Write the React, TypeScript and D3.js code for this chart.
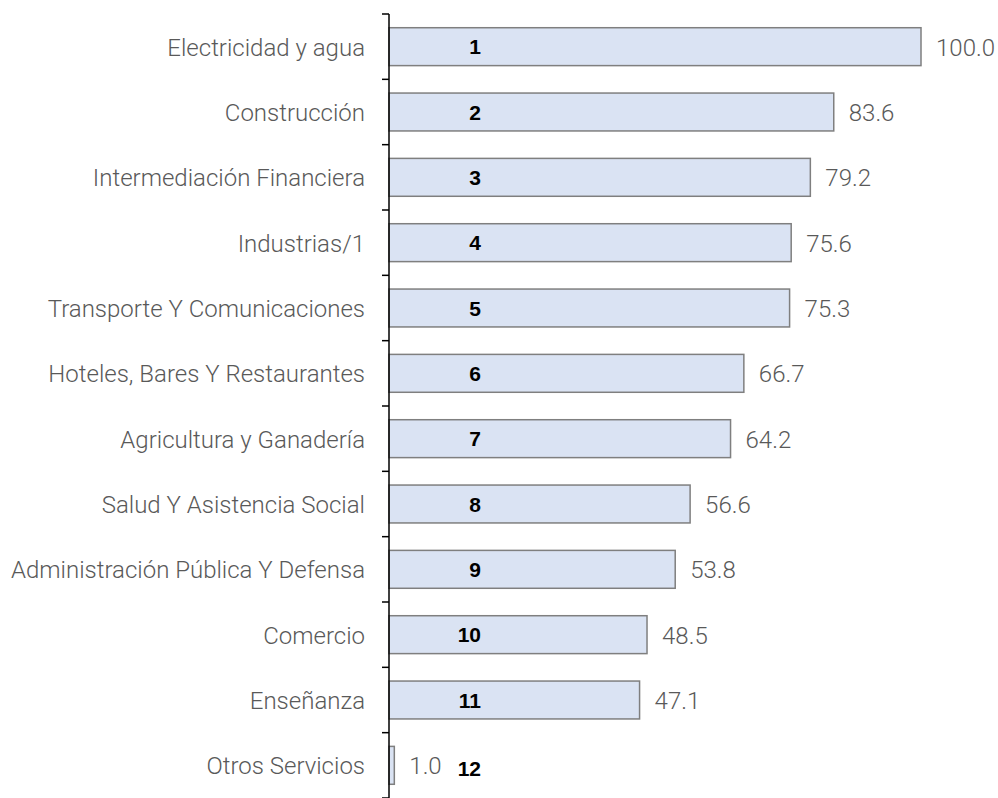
import React from "react";
import * as d3 from "d3";

const categories = [
  "Electricidad y agua",
  "Construcción",
  "Intermediación Financiera",
  "Industrias/1",
  "Transporte Y Comunicaciones",
  "Hoteles, Bares Y Restaurantes",
  "Agricultura y Ganadería",
  "Salud Y Asistencia Social",
  "Administración Pública Y Defensa",
  "Comercio",
  "Enseñanza",
  "Otros Servicios",
];
const values = [100.0, 83.6, 79.2, 75.6, 75.3, 66.7, 64.2, 56.6, 53.8, 48.5, 47.1, 1.0];
const ranks = ["1", "2", "3", "4", "5", "6", "7", "8", "9", "10", "11", "12"];

export default function App() {
  const W = 998, H = 798;
  const x0 = 389, x1 = 921;
  const top = 14, bottom = 798;
  const x = d3.scaleLinear().domain([0, 100]).range([x0, x1]);
  const y = d3.scaleBand<string>().domain(categories).range([top, bottom]).paddingInner(0.42).paddingOuter(0.21);
  const step = y.step();
  const ticks = d3.range(categories.length + 1).map((i) => top + i * step);
  const labelFont = "Roboto, 'Open Sans', sans-serif";
  return (
    <svg width={W} height={H} style={{ position: "absolute", left: 0, top: 0, display: "block" }}>
      <rect width={W} height={H} fill="#ffffff" />
      {categories.map((c, i) => {
        const yy = y(c)!;
        const bw = y.bandwidth();
        return (
          <g key={c}>
            <rect x={x(0)} y={yy} width={x(values[i]) - x(0)} height={bw} fill="#dae3f3" stroke="#7f7f7f" strokeWidth={1.5} />
            <text x={365} y={yy + bw / 2} dy="0.38em" textAnchor="end" fontFamily={labelFont} fontWeight={300} fontSize={24} fill="#595959">{c}</text>
            <text x={x(values[i]) + 15} y={yy + bw / 2} dy="0.38em" textAnchor="start" fontFamily={labelFont} fontWeight={300} fontSize={24} fill="#595959">{values[i].toFixed(1)}</text>
            <text x={481} y={yy + bw / 2 + (i === 11 ? 3 : 0)} dy="0.36em" textAnchor="end" fontFamily="'Liberation Sans', Arial, sans-serif" fontWeight={700} fontSize={21} fill="#000000">{ranks[i]}</text>
          </g>
        );
      })}
      <line x1={x0} x2={x0} y1={top} y2={bottom} stroke="#000" strokeWidth={1.5} />
      {ticks.map((t, i) => (
        <line key={i} x1={x0 - 7} x2={x0} y1={t} y2={t} stroke="#000" strokeWidth={1.5} />
      ))}
    </svg>
  );
}
